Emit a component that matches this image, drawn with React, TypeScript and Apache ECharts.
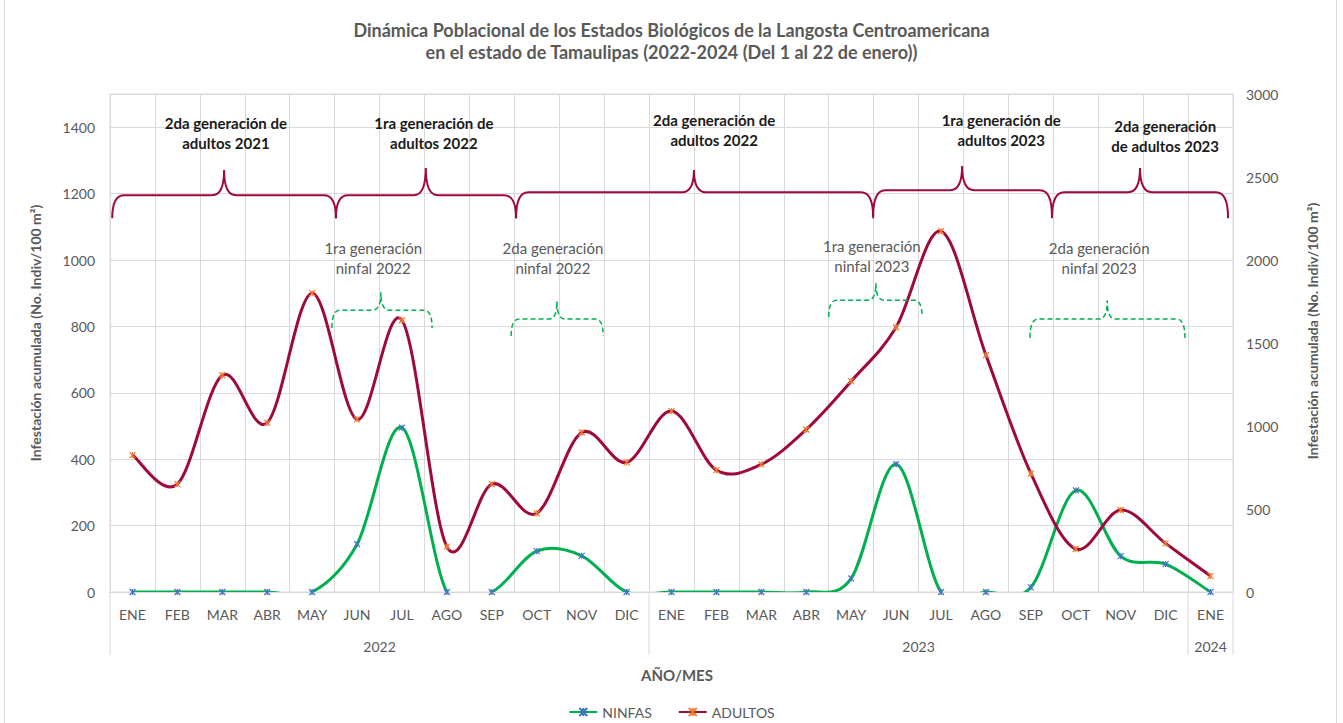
import React, { useEffect, useRef } from 'react';
import * as echarts from 'echarts';

const MONTHS = ['ENE', 'FEB', 'MAR', 'ABR', 'MAY', 'JUN', 'JUL', 'AGO', 'SEP', 'OCT', 'NOV', 'DIC',
  'ENE', 'FEB', 'MAR', 'ABR', 'MAY', 'JUN', 'JUL', 'AGO', 'SEP', 'OCT', 'NOV', 'DIC', 'ENE'];
const YEAR_LABELS = ['2022', '2023', '2024'];
const YEAR_STARTS = [0, 12, 24];
const YEAR_ENDS = [12, 24, 25];
const NINFAS = [0, 0, 0, 0, 0, 144, 495, 0, 0, 123, 109, 0, 0, 0, 0, 0, 41, 385, 0, 0, 14, 306, 108, 84, 0];
const ADULTOS = [825, 650, 1306, 1019, 1800, 1040, 1637, 273, 650, 474, 961, 781, 1090, 734, 769, 979, 1270, 1595, 2173, 1427, 714, 259, 494, 293, 96];

const TITLE = 'Dinámica Poblacional de los Estados Biológicos de la Langosta Centroamericana\nen el estado de Tamaulipas (2022-2024 (Del 1 al 22 de enero))';
const Y_NAME = 'Infestación acumulada (No. Indiv/100 m²)';

// annotations: b = position in category-band units (0 = left edge), v = left-axis value
const ADULT_BRACES = [
  { b1: 0.05, b2: 5.03, bm: 2.54, line: 1195, end: 1126, peak: 1271 },
  { b1: 5.03, b2: 9.04, bm: 7.03, line: 1195, end: 1126, peak: 1277 },
  { b1: 9.04, b2: 16.99, bm: 13.0, line: 1204, end: 1126, peak: 1271 },
  { b1: 16.99, b2: 20.97, bm: 18.97, line: 1210, end: 1132, peak: 1283 },
  { b1: 20.97, b2: 24.89, bm: 22.93, line: 1204, end: 1126, peak: 1277 },
];
const ADULT_LABELS = [
  { text: '2da generación de\nadultos 2021', b: 2.58, v: 1382 },
  { text: '1ra generación de\nadultos 2022', b: 7.21, v: 1382 },
  { text: '2da generación de\nadultos 2022', b: 13.45, v: 1391 },
  { text: '1ra generación de\nadultos 2023', b: 19.84, v: 1391 },
  { text: '2da generación\nde adultos 2023', b: 23.49, v: 1373 },
];
const NYMPH_BRACES = [
  { b1: 4.94, b2: 7.17, bm: 6.03, line: 849, end: 795, peak: 903 },
  { b1: 8.93, b2: 10.98, bm: 9.95, line: 822, end: 771, peak: 876 },
  { b1: 16.0, b2: 18.08, bm: 17.05, line: 879, end: 828, peak: 930 },
  { b1: 20.48, b2: 23.93, bm: 22.2, line: 822, end: 765, peak: 879 },
];
const NYMPH_LABELS = [
  { text: '1ra generación\nninfal 2022', b: 5.86, v: 1006 },
  { text: '2da generación\nninfal 2022', b: 9.86, v: 1006 },
  { text: '1ra generación\nninfal 2023', b: 16.96, v: 1012 },
  { text: '2da generación\nninfal 2023', b: 22.02, v: 1006 },
];

const FONT = 'Lato, "Open Sans", "DejaVu Sans", sans-serif';
const GRAY = '#595959';
const GRID = '#d9d9d9';
const RED = '#9E0B3B';
const GREEN = '#00B050';
const STAR = 'path://M0,0L10,10M10,0L0,10M5,0L5,10';

function bracePath(x1: number, x2: number, xm: number, yl: number, ye: number, yp: number, r: number) {
  return `M${x1},${ye}Q${x1},${yl} ${x1 + r},${yl}L${xm - r},${yl}Q${xm},${yl} ${xm},${yp}Q${xm},${yl} ${xm + r},${yl}L${x2 - r},${yl}Q${x2},${yl} ${x2},${ye}`;
}

// Catmull-Rom style spline (like a spreadsheet "smoothed line") through axis-mapped points
function splinePath(pts: number[][]) {
  const n = pts.length;
  if (!n) return '';
  let d = `M${pts[0][0]},${pts[0][1]}`;
  for (let i = 0; i < n - 1; i++) {
    const p0 = pts[Math.max(0, i - 1)];
    const p1 = pts[i];
    const p2 = pts[i + 1];
    const p3 = pts[Math.min(n - 1, i + 2)];
    const c1x = p1[0] + (p2[0] - p0[0]) / 6;
    const c1y = p1[1] + (p2[1] - p0[1]) / 6;
    const c2x = p2[0] - (p3[0] - p1[0]) / 6;
    const c2y = p2[1] - (p3[1] - p1[1]) / 6;
    d += `C${c1x},${c1y} ${c2x},${c2y} ${p2[0]},${p2[1]}`;
  }
  return d;
}

function curveSeries(values: number[], yAxisIndex: number, color: string, z: number) {
  return {
    type: 'custom',
    name: 'curve' + yAxisIndex,
    yAxisIndex,
    z,
    silent: true,
    data: values.map((v, i) => [i, v]),
    encode: { x: 0, y: 1 },
    renderItem: (params: any, api: any) => {
      if (params.dataIndex !== 0) return null;
      const pts = values.map((v, i) => api.coord([i, v]));
      const cs = params.coordSys;
      return {
        type: 'path',
        shape: { pathData: splinePath(pts) },
        style: { fill: 'none', stroke: color, lineWidth: 3, lineJoin: 'round' },
        clipPath: { type: 'rect', shape: { x: cs.x, y: cs.y, width: cs.width, height: cs.height } },
      };
    },
  };
}

export default function App() {
  const ref = useRef<HTMLDivElement>(null);
  useEffect(() => {
    if (!ref.current) return;
    const chart = echarts.init(ref.current, null, { renderer: 'svg' });
    const option: any = {
      animation: false,
      backgroundColor: '#ffffff',
      textStyle: { fontFamily: FONT },
      title: {
        text: TITLE,
        left: 'center',
        top: 14,
        textStyle: { fontFamily: FONT, fontSize: 18, fontWeight: 'bold', color: GRAY, lineHeight: 22 },
      },
      legend: {
        top: 700,
        left: 'center',
        itemWidth: 28,
        itemHeight: 10,
        itemGap: 26,
        textStyle: { fontFamily: FONT, fontSize: 14, color: GRAY },
        lineStyle: { opacity: 1 },
        data: ['NINFAS', 'ADULTOS'],
      },
      grid: { left: 110, right: 110, top: 94, bottom: 131, show: true, borderColor: GRID, borderWidth: 1 },
      xAxis: {
        type: 'category',
        data: MONTHS,
        boundaryGap: true,
        axisLine: { lineStyle: { color: GRID, width: 1 } },
        axisTick: { show: false },
        axisLabel: { interval: 0, color: GRAY, fontSize: 14, fontFamily: FONT, margin: 15 },
        splitLine: { show: true, interval: 0, lineStyle: { color: GRID, width: 1 } },
      },
      yAxis: [
        {
          type: 'value', min: 0, max: 1500, interval: 200,
          axisLine: { show: false }, axisTick: { show: false },
          axisLabel: { color: GRAY, fontSize: 14, fontFamily: FONT, margin: 15, showMaxLabel: false, formatter: (v: number) => String(v) },
          splitLine: { lineStyle: { color: GRID, width: 1 } },
        },
        {
          type: 'value', min: 0, max: 3000, interval: 500,
          axisLine: { show: false }, axisTick: { show: false },
          axisLabel: { color: GRAY, fontSize: 14, fontFamily: FONT, margin: 13, formatter: (v: number) => String(v) },
          splitLine: { show: false },
        },
      ],
      series: [
        curveSeries(NINFAS, 0, GREEN, 2),
        curveSeries(ADULTOS, 1, RED, 3),
        {
          name: 'NINFAS', type: 'line', data: NINFAS, yAxisIndex: 0, smooth: false,
          symbol: STAR, symbolSize: 6, showSymbol: true,
          lineStyle: { color: GREEN, width: 3, opacity: 0 },
          itemStyle: { color: '#4472C4', borderColor: '#4472C4', borderWidth: 1.2 },
          z: 4,
        },
        {
          name: 'ADULTOS', type: 'line', data: ADULTOS, yAxisIndex: 1, smooth: false,
          symbol: STAR, symbolSize: 6, showSymbol: true,
          lineStyle: { color: RED, width: 3, opacity: 0 },
          itemStyle: { color: '#ED7D31', borderColor: '#ED7D31', borderWidth: 1.2 },
          z: 5,
        },
      ],
    };
    chart.setOption(option);

    const xc0 = chart.convertToPixel({ xAxisIndex: 0 }, 0) as number;
    const xc24 = chart.convertToPixel({ xAxisIndex: 0 }, 24) as number;
    const step = (xc24 - xc0) / 24;
    const bx = (b: number) => xc0 - step / 2 + b * step;
    const yv = (v: number) => chart.convertToPixel({ yAxisIndex: 0 }, v) as number;
    const y0 = yv(0);

    const elements: any[] = [];
    elements.push({
      type: 'rect', shape: { x: 4.5, y: -5, width: 1332, height: 740 },
      style: { fill: 'none', stroke: GRID, lineWidth: 1 }, silent: true, z: -10,
    });
    [0, 12, 24, 25].forEach((b) => {
      elements.push({
        type: 'line', shape: { x1: bx(b), y1: y0, x2: bx(b), y2: y0 + 63 },
        style: { stroke: GRID, lineWidth: 1 }, silent: true,
      });
    });
    YEAR_LABELS.forEach((lab, i) => {
      elements.push({
        type: 'text', x: (bx(YEAR_STARTS[i]) + bx(YEAR_ENDS[i])) / 2, y: y0 + 54,
        style: { text: lab, fill: GRAY, fontSize: 14, fontFamily: FONT, align: 'center', verticalAlign: 'middle' },
        silent: true,
      });
    });
    elements.push({
      type: 'text', x: 677, y: 675,
      style: { text: 'AÑO/MES', fill: GRAY, fontSize: 15, fontWeight: 'bold', fontFamily: FONT, align: 'center', verticalAlign: 'middle' },
      silent: true,
    });
    elements.push({
      type: 'text', x: 35, y: 333, rotation: Math.PI / 2,
      style: { text: Y_NAME, fill: GRAY, fontSize: 14, fontWeight: 'bold', fontFamily: FONT, align: 'center', verticalAlign: 'middle' },
      silent: true,
    });
    elements.push({
      type: 'text', x: 1312, y: 331, rotation: Math.PI / 2,
      style: { text: Y_NAME, fill: GRAY, fontSize: 14, fontWeight: 'bold', fontFamily: FONT, align: 'center', verticalAlign: 'middle' },
      silent: true,
    });

    ADULT_BRACES.forEach((br, i) => {
      const d = bracePath(bx(br.b1), bx(br.b2), bx(br.bm), yv(br.line), yv(br.end), yv(br.peak), 12);
      const name = 'adultBrace' + i;
      echarts.graphic.registerShape(name, echarts.graphic.extendPath(d, {}));
      elements.push({ type: name, x: 0, y: 0, style: { fill: 'none', stroke: RED, lineWidth: 2 }, silent: true, z: 5 });
    });
    NYMPH_BRACES.forEach((br, i) => {
      const d = bracePath(bx(br.b1), bx(br.b2), bx(br.bm), yv(br.line), yv(br.end), yv(br.peak), 8);
      const name = 'nymphBrace' + i;
      echarts.graphic.registerShape(name, echarts.graphic.extendPath(d, {}));
      elements.push({ type: name, x: 0, y: 0, style: { fill: 'none', stroke: GREEN, lineWidth: 1.5, lineDash: [5, 3] }, silent: true, z: 5 });
    });
    ADULT_LABELS.forEach((l) => {
      elements.push({
        type: 'text', x: bx(l.b), y: yv(l.v),
        style: { text: l.text, fill: '#1a1a1a', fontSize: 15, fontWeight: 'bold', fontFamily: FONT, align: 'center', verticalAlign: 'middle', lineHeight: 20 },
        silent: true, z: 5,
      });
    });
    NYMPH_LABELS.forEach((l) => {
      elements.push({
        type: 'text', x: bx(l.b), y: yv(l.v),
        style: { text: l.text, fill: GRAY, fontSize: 15, fontFamily: FONT, align: 'center', verticalAlign: 'middle', lineHeight: 20 },
        silent: true, z: 5,
      });
    });
    chart.setOption({ graphic: { elements } });
    return () => chart.dispose();
  }, []);
  return <div ref={ref} style={{ position: 'fixed', left: 0, top: 0, width: 1343, height: 723 }} />;
}
